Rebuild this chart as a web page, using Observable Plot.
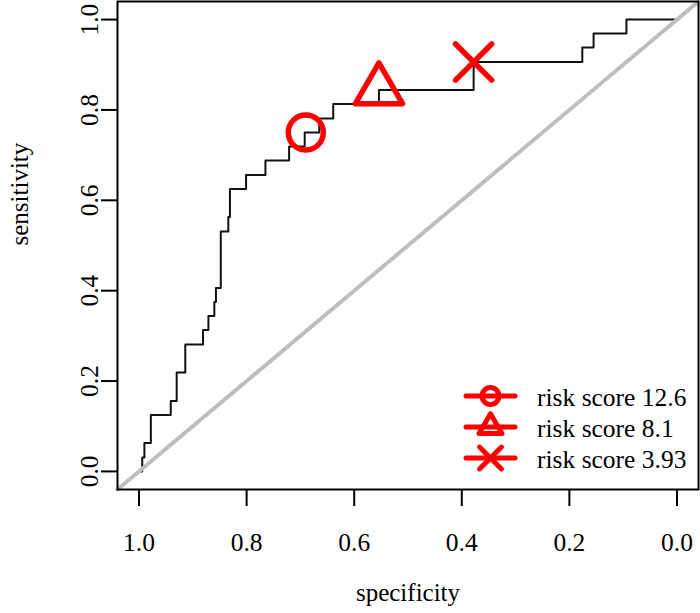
<!DOCTYPE html>
<html><head><meta charset="utf-8">
<script src="https://cdn.jsdelivr.net/npm/d3@7"></script>
<script src="https://cdn.jsdelivr.net/npm/@observablehq/plot@0.6"></script>
<style>body{margin:0;background:#fff;} #chart{width:700px;height:613px;}</style>
</head><body><div id="chart"></div>
<script>
// ROC curve vertices (specificity, sensitivity)
const specificity = [1.0, 0.994, 0.990, 0.978, 0.941, 0.930, 0.914, 0.881, 0.871, 0.860, 0.857, 0.848, 0.834, 0.831, 0.801, 0.765, 0.721, 0.692, 0.665, 0.639, 0.554, 0.378, 0.176, 0.155, 0.094, 0.0];
const sensitivity = [0, 0.031, 0.063, 0.125, 0.156, 0.219, 0.281, 0.313, 0.344, 0.375, 0.406, 0.531, 0.563, 0.625, 0.656, 0.688, 0.719, 0.750, 0.781, 0.813, 0.844, 0.906, 0.938, 0.969, 1.0, 1.0];

// highlighted cut-offs
const cutoffLabels = ["risk score 12.6", "risk score 8.1", "risk score 3.93"];
const cutoffSpec = [0.690, 0.554, 0.378];
const cutoffSens = [0.750, 0.844, 0.906];
const cutoffSymbols = ["circle", "triangle", "times"];

const xTicks = [1.0, 0.8, 0.6, 0.4, 0.2, 0.0];
const yTicks = [0.0, 0.2, 0.4, 0.6, 0.8, 1.0];
const xTitle = "specificity";
const yTitle = "sensitivity";

const xDomain = [1.04, -0.04];
const yDomain = [-0.04, 1.04];

const roc = specificity.map((s, i) => ({spec: s, sens: sensitivity[i]}));
const cuts = cutoffLabels.map((l, i) => ({label: l, spec: cutoffSpec[i], sens: cutoffSens[i], sym: cutoffSymbols[i]}));
const diag = xDomain.map(x => ({spec: x, sens: 1 - x}));

const RED = "#ff0000";
const FONT = "'Liberation Serif', 'Times New Roman', serif";

const plot = Plot.plot({
  width: 700, height: 613,
  marginLeft: 117, marginRight: 2, marginTop: 1, marginBottom: 124,
  style: {fontFamily: FONT, fontSize: "25px", background: "white", color: "black"},
  x: {domain: xDomain},
  y: {domain: yDomain},
  marks: [
    Plot.line(roc, {x: "spec", y: "sens", curve: "step-after", stroke: "#111", strokeWidth: 2}),
    Plot.line(diag, {x: "spec", y: "sens", stroke: "#bebebe", strokeWidth: 4}),
    Plot.dot(cuts, {x: "spec", y: "sens", symbol: "sym", r: 17.5, stroke: RED, strokeWidth: 5.5, strokeLinecap: "round", strokeLinejoin: "round", filter: d => d.sym !== "times"}),
    Plot.dot(cuts, {x: "spec", y: "sens", symbol: "sym", r: 16.5, stroke: RED, strokeWidth: 5.5, strokeLinecap: "round", filter: d => d.sym === "times"}),
    Plot.frame({stroke: "black", strokeWidth: 2}),
    Plot.axisX({ticks: xTicks, tickFormat: d3.format(".1f"), tickSize: 17, tickPadding: 26, fontSize: 25.5, strokeWidth: 2, label: null}),
    Plot.axisY({ticks: yTicks, tickFormat: d3.format(".1f"), tickRotate: -90, tickSize: 16, tickPadding: 4, fontSize: 25.5, strokeWidth: 2, label: null}),
    Plot.text([xTitle], {frameAnchor: "bottom", dy: 111, fontSize: 25}),
    Plot.text([yTitle], {frameAnchor: "left", dx: -98, rotate: -90, fontSize: 25})
  ]
});

// legend (bottom-right inside the frame)
const svg = d3.select(plot);
const right = 700 - 2, bottom = 613 - 124;
const g = svg.append("g").attr("font-family", FONT).attr("font-size", 25.5).attr("text-anchor", "start");
const legSizes = {circle: 227, triangle: 227, times: 316};
const symMap = {circle: d3.symbolCircle, triangle: d3.symbolTriangle, times: d3.symbolTimes};
cutoffLabels.forEach((lab, i) => {
  const cy = bottom - 93 + i * 31;
  g.append("line").attr("x1", right - 232).attr("x2", right - 183).attr("y1", cy).attr("y2", cy)
    .attr("stroke", RED).attr("stroke-width", 5).attr("stroke-linecap", "round");
  g.append("path").attr("d", d3.symbol(symMap[cutoffSymbols[i]], legSizes[cutoffSymbols[i]])())
    .attr("transform", `translate(${right - 207.5},${cy})`)
    .attr("fill", "none").attr("stroke", RED).attr("stroke-width", 5)
    .attr("stroke-linecap", "round").attr("stroke-linejoin", "round");
  g.append("text").attr("x", right - 161).attr("y", cy + 9.7).attr("fill", "black")
    .attr("text-anchor", "start").text(lab);
});

document.getElementById("chart").appendChild(plot);
</script>
</body></html>
